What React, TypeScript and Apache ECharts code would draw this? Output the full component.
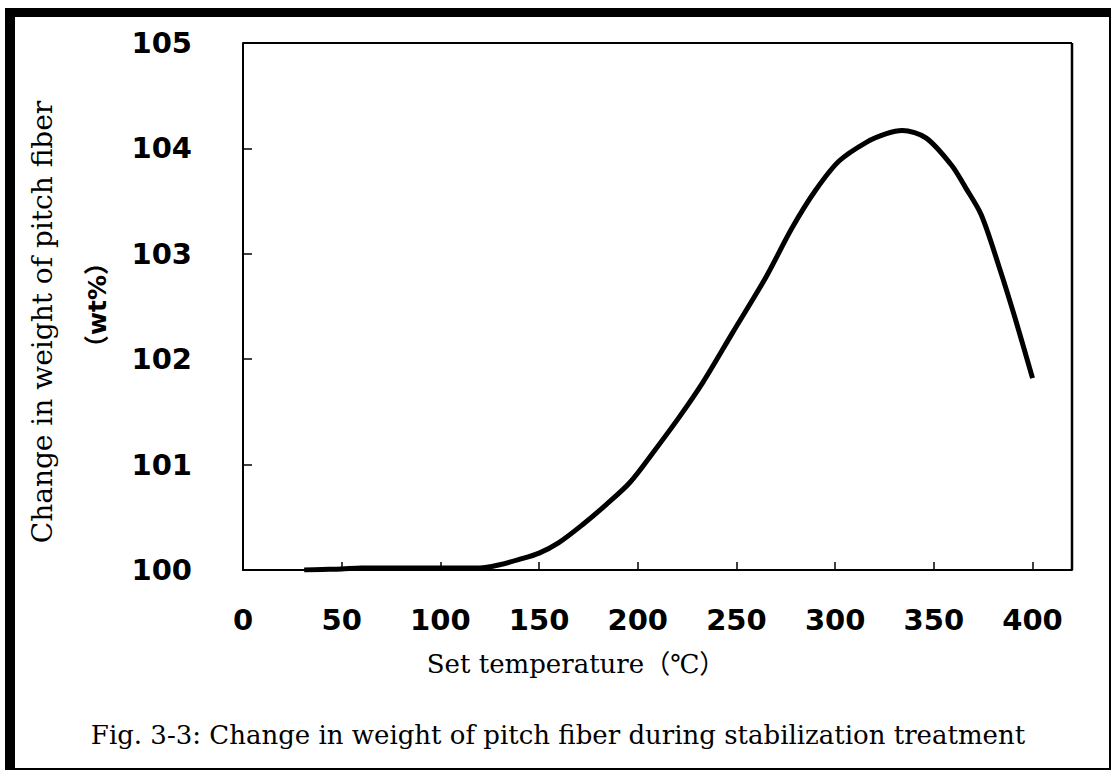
import React, { useEffect, useRef } from "react";
import * as echarts from "echarts";

const temperatures = [31, 40, 50, 60, 80, 100, 120, 130, 140, 150, 160, 172, 184, 196, 208, 221, 233, 248, 265, 278, 290, 302, 316, 326, 334, 346, 359, 366, 374, 383, 391, 400];
const weights = [100.0, 100.005, 100.01, 100.02, 100.02, 100.02, 100.02, 100.05, 100.1, 100.16, 100.26, 100.43, 100.62, 100.83, 101.12, 101.45, 101.78, 102.25, 102.78, 103.24, 103.6, 103.88, 104.06, 104.14, 104.17, 104.1, 103.84, 103.63, 103.37, 102.88, 102.4, 101.82];

const yTitle = "Change in weight of pitch fiber";
const yUnit = "（wt%）";
const xTitle = "Set temperature（℃）";
const caption = "Fig. 3-3: Change in weight of pitch fiber during stabilization treatment";

const serif = "'DejaVu Serif', 'Liberation Serif', 'Noto Sans CJK JP', serif";
const sans = "'DejaVu Sans', 'Noto Sans CJK JP', sans-serif";

export default function App() {
  const ref = useRef<HTMLDivElement>(null);
  useEffect(() => {
    if (!ref.current) return;
    const chart = echarts.init(ref.current, null, { renderer: "svg" });
    const data = temperatures.map((t, i) => [t, weights[i]]);
    chart.setOption({
      animation: false,
      backgroundColor: "#ffffff",
      grid: { left: 243, top: 43, right: 41, bottom: 201, show: false },
      xAxis: {
        type: "value",
        min: 0,
        max: 420,
        interval: 50,
        axisLine: { show: true, onZero: false, lineStyle: { color: "#000", width: 2 } },
        axisTick: { show: true, inside: true, length: 8, lineStyle: { color: "#000", width: 1.5 } },
        axisLabel: {
          showMaxLabel: false,
          margin: 35,
          color: "#000",
          fontFamily: sans,
          fontWeight: "bold",
          fontSize: 29,
          formatter: (v: number) => (v > 400 ? "" : String(v)),
        },
        splitLine: { show: false },
      },
      yAxis: {
        type: "value",
        min: 100,
        max: 105,
        interval: 1,
        axisLine: { show: true, onZero: false, lineStyle: { color: "#000", width: 2 } },
        axisTick: { show: true, inside: true, length: 9, lineStyle: { color: "#000", width: 1.5 } },
        axisLabel: {
          margin: 51,
          color: "#000",
          fontFamily: sans,
          fontWeight: "bold",
          fontSize: 29,
        },
        splitLine: { show: false },
      },
      series: [
        {
          type: "line",
          data,
          showSymbol: false,
          smooth: 0.3,
          lineStyle: { color: "#000", width: 5 },
          z: 5,
        },
      ],
      graphic: [
        { type: "line", shape: { x1: 243, y1: 43, x2: 1072, y2: 43 }, style: { stroke: "#000", lineWidth: 2 } },
        { type: "line", shape: { x1: 1072, y1: 43, x2: 1072, y2: 570 }, style: { stroke: "#000", lineWidth: 2.5 } },
        { type: "rect", shape: { x: 5, y: 8, width: 1106, height: 9 }, style: { fill: "#000" } },
        { type: "rect", shape: { x: 5, y: 8, width: 10, height: 762 }, style: { fill: "#000" } },
        { type: "rect", shape: { x: 1109, y: 8, width: 2, height: 762 }, style: { fill: "#000" } },
        { type: "rect", shape: { x: 5, y: 768, width: 1106, height: 2 }, style: { fill: "#000" } },
        {
          type: "text",
          x: 42,
          y: 322,
          rotation: Math.PI / 2,
          style: { text: yTitle, font: `28px ${serif}`, fill: "#000", align: "center", verticalAlign: "middle" },
        },
        {
          type: "text",
          x: 97,
          y: 305,
          rotation: Math.PI / 2,
          style: { text: yUnit, font: `bold 25px ${sans}`, fill: "#000", align: "center", verticalAlign: "middle" },
        },
        {
          type: "text",
          x: 576,
          y: 664,
          style: { text: xTitle, font: `26px ${serif}`, fill: "#000", align: "center", verticalAlign: "middle" },
        },
        {
          type: "text",
          x: 558,
          y: 735,
          style: { text: caption, font: `26px ${serif}`, fill: "#000", align: "center", verticalAlign: "middle" },
        },
      ],
    });
    return () => chart.dispose();
  }, []);
  return (
    <div
      ref={ref}
      style={{ position: "absolute", left: 0, top: 0, width: 1113, height: 771, background: "#fff" }}
    />
  );
}
